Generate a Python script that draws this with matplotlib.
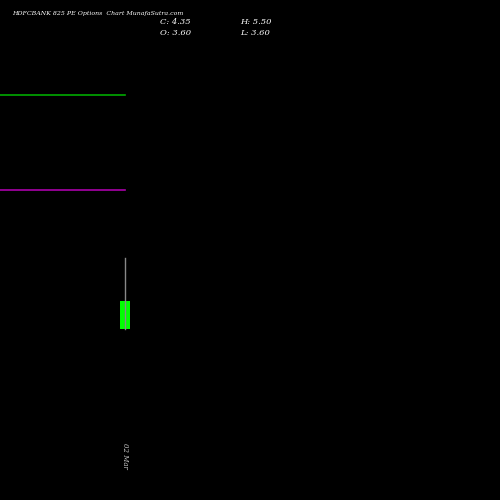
import matplotlib
matplotlib.use("Agg")
import matplotlib.pyplot as plt

dates = ["02 Mar"]
opens = [3.60]
highs = [5.50]
lows = [3.60]
closes = [4.35]
green_level = 9.87
purple_level = 7.33

fig = plt.figure(figsize=(5, 5), dpi=100, facecolor="black")
ax = fig.add_axes([0, 0, 1, 1], facecolor="black")
ax.set_xlim(-12.5, 37.5)
ax.set_ylim(-0.98, 12.42)
ax.axis("off")

ax.plot([-12.5, 0], [green_level]*2, color="#00aa00", lw=1.2)
ax.plot([-12.5, 0], [purple_level]*2, color="#aa00aa", lw=1.2)

for i, (o, h, l, c) in enumerate(zip(opens, highs, lows, closes)):
    ax.plot([i, i], [l, h], color="#888888", lw=1)
    ax.bar(i, abs(c - o), bottom=min(o, c), width=1.0, color="#00ff00" if c >= o else "red")
    ax.text(i, 0.2, dates[i], rotation=-90, color="#cccccc", fontsize=5, fontfamily="DejaVu Serif", fontstyle="italic", ha="center", va="center")

fig.text(0.025, 0.972, "HDFCBANK 825 PE Options  Chart MunafaSutra.com", color="white", fontsize=4.5, fontfamily="DejaVu Serif", fontstyle="italic", va="center")
fig.text(0.32, 0.955, "C: 4.35", color="white", fontsize=6, fontfamily="DejaVu Serif", fontstyle="italic", va="center")
fig.text(0.32, 0.934, "O: 3.60", color="white", fontsize=6, fontfamily="DejaVu Serif", fontstyle="italic", va="center")
fig.text(0.48, 0.955, "H: 5.50", color="white", fontsize=6, fontfamily="DejaVu Serif", fontstyle="italic", va="center")
fig.text(0.48, 0.934, "L: 3.60", color="white", fontsize=6, fontfamily="DejaVu Serif", fontstyle="italic", va="center")

fig.savefig("out.png", dpi=100, facecolor="black")
